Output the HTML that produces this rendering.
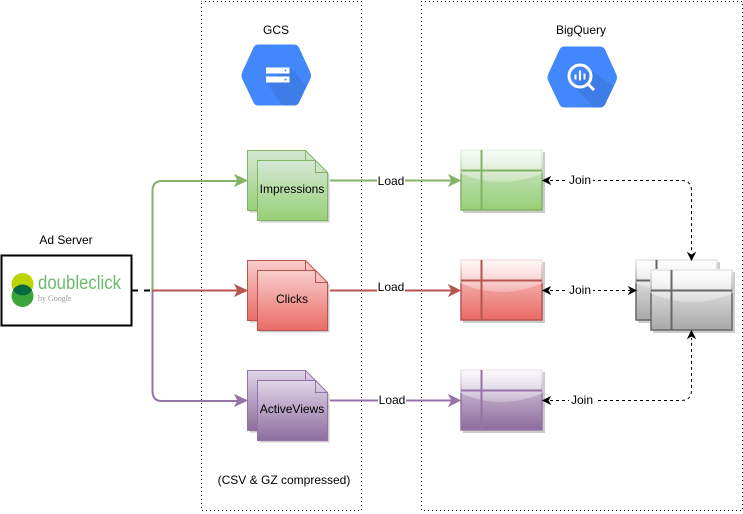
<!DOCTYPE html>
<html><head><meta charset="utf-8"><style>
html,body{margin:0;padding:0;background:#fff}
svg{display:block}
text{font-family:"Liberation Sans",sans-serif;font-size:12px;fill:#000}
</style></head><body>
<svg width="743" height="514" viewBox="0 0 743 514" xmlns="http://www.w3.org/2000/svg">
<defs>
<linearGradient id="gG" x1="0" y1="0" x2="0" y2="1"><stop offset="0" stop-color="#d5e8d4"/><stop offset="1" stop-color="#97d077"/></linearGradient>
<linearGradient id="gR" x1="0" y1="0" x2="0" y2="1"><stop offset="0" stop-color="#f8cecc"/><stop offset="1" stop-color="#ea6b66"/></linearGradient>
<linearGradient id="gP" x1="0" y1="0" x2="0" y2="1"><stop offset="0" stop-color="#e1d5e7"/><stop offset="1" stop-color="#8c6c9c"/></linearGradient>
<linearGradient id="gK" x1="0" y1="0" x2="0" y2="1"><stop offset="0" stop-color="#f5f5f5"/><stop offset="1" stop-color="#a8a8a8"/></linearGradient>
<linearGradient id="gl" x1="0" y1="0" x2="0" y2="1"><stop offset="0" stop-color="#fff" stop-opacity=".85"/><stop offset="1" stop-color="#fff" stop-opacity=".25"/></linearGradient>
<path id="doc" d="M0 0H58L70 12V60H0Z"/>
<path id="hex" d="M17 0H52Q56 0 57.500 3L68.500 27Q70.500 31 68.500 35L57.500 58Q56 61 52 61H17Q13.500 61 12 58L1 35Q-1 31 1 27L12 3Q13.500 0 17 0Z"/>
</defs>

<rect x="201.500" y="1.500" width="160" height="509" fill="none" stroke="#000" stroke-dasharray="1 3" stroke-dashoffset="0.5"/>
<rect x="421.500" y="1.500" width="321" height="509" fill="none" stroke="#000" stroke-dasharray="1 3" stroke-dashoffset="0.5"/>

<text x="276" y="34" text-anchor="middle">GCS</text>
<text x="581" y="34" text-anchor="middle">BigQuery</text>
<text x="66" y="244" text-anchor="middle">Ad Server</text>
<text x="284" y="484" text-anchor="middle">(CSV &amp; GZ compressed)</text>

<!-- GCS hex -->
<g transform="translate(241.500,44.500)"><use href="#hex" fill="#4387fd"/>
<path d="M25 38L48 23L65 41L57.500 58Q56 61 52 61H41Z" fill="#3e7ce8"/>
<rect x="24.500" y="23" width="23.500" height="6" fill="#fff"/><rect x="24.500" y="32" width="23.500" height="6" fill="#fff"/>
<circle cx="44" cy="26" r="1" fill="#4387fd"/><circle cx="44" cy="35" r="1" fill="#4387fd"/></g>
<!-- BQ hex -->
<g transform="translate(547.500,46.500)"><use href="#hex" fill="#4387fd"/>
<path d="M27 40L42 22L66 40L57.500 58Q56 61 52 61H46Z" fill="#3e7ce8"/>
<circle cx="32.500" cy="29.500" r="11" fill="none" stroke="#fff" stroke-width="3"/>
<path d="M40 37L46.500 43.500" stroke="#fff" stroke-width="3"/>
<path d="M28 28V33M32.500 24V34M37 27V33" stroke="#fff" stroke-width="2"/></g>

<!-- Ad server box -->
<rect x="1.500" y="255.500" width="130" height="70" fill="#fff" stroke="#000" stroke-width="2"/>
<circle cx="22.500" cy="284" r="11" fill="#bdd400"/>
<circle cx="22.500" cy="296" r="11" fill="#3aa53a"/>
<path d="M13 290a11 11 0 0 1 19 0a11 11 0 0 1-19 0Z" fill="#046b40"/>
<text x="38" y="289" style="font-size:19px;fill:#6cbb6c" textLength="83" lengthAdjust="spacingAndGlyphs">doubleclick</text>
<text x="38" y="301" style="font-size:8px;fill:#999;font-family:'Liberation Serif',serif">by Google</text>

<!-- Connectors left -->
<path d="M132 290.500H152" stroke="#000" stroke-width="2" stroke-dasharray="6 6" fill="none"/>
<path d="M152.500 290.500V191Q152.500 181 162 181H240" fill="none" stroke="#82b366" stroke-width="2"/>
<path d="M152.500 290.500V391Q152.500 401 162 401H240" fill="none" stroke="#9673a6" stroke-width="2"/>
<path d="M152 290.500H240" fill="none" stroke="#b85450" stroke-width="2"/>
<path d="M247 180.500L235 175L238 180.500L235 186Z" fill="#82b366" stroke="#82b366"/>
<path d="M247 290.500L235 285L238 290.500L235 296Z" fill="#b85450" stroke="#b85450"/>
<path d="M247 400.500L235 395L238 400.500L235 406Z" fill="#9673a6" stroke="#9673a6"/>

<!-- Load connectors -->
<path d="M330 180.500H453" stroke="#82b366" stroke-width="2"/>
<path d="M330 290.500H453" stroke="#b85450" stroke-width="2"/>
<path d="M330 400.500H453" stroke="#9673a6" stroke-width="2"/>
<path d="M460 180.500L449 175L452 180.500L449 186Z" fill="#82b366" stroke="#82b366"/>
<path d="M460 290.500L449 285L452 290.500L449 296Z" fill="#b85450" stroke="#b85450"/>
<path d="M460 400.500L449 395L452 400.500L449 406Z" fill="#9673a6" stroke="#9673a6"/>
<rect x="377" y="174" width="28" height="14" fill="#fff"/><text x="391" y="185" text-anchor="middle">Load</text>
<rect x="377" y="280" width="28" height="14" fill="#fff"/><text x="391" y="291" text-anchor="middle">Load</text>
<rect x="378" y="393" width="28" height="14" fill="#fff"/><text x="392" y="404" text-anchor="middle">Load</text>

<!-- Docs -->
<g>
<use href="#doc" x="249.500" y="152.500" fill="#ccc"/><use href="#doc" x="247.500" y="150.500" fill="url(#gG)" stroke="#82b366"/>
<use href="#doc" x="259.500" y="162.500" fill="#ccc"/><use href="#doc" x="257.500" y="160.500" fill="url(#gG)" stroke="#82b366"/>
<path d="M305.500 150.500V160.500M315.500 160.500V172.500H327.500" fill="none" stroke="#82b366"/>
<text x="292" y="193" text-anchor="middle">Impressions</text>
</g>
<g>
<use href="#doc" x="249.500" y="262.500" fill="#ccc"/><use href="#doc" x="247.500" y="260.500" fill="url(#gR)" stroke="#b85450"/>
<use href="#doc" x="259.500" y="272.500" fill="#ccc"/><use href="#doc" x="257.500" y="270.500" fill="url(#gR)" stroke="#b85450"/>
<path d="M305.500 260.500V270.500M315.500 270.500V282.500H327.500" fill="none" stroke="#b85450"/>
<text x="292" y="303" text-anchor="middle">Clicks</text>
</g>
<g>
<use href="#doc" x="249.500" y="372.500" fill="#ccc"/><use href="#doc" x="247.500" y="370.500" fill="url(#gP)" stroke="#9673a6"/>
<use href="#doc" x="259.500" y="382.500" fill="#ccc"/><use href="#doc" x="257.500" y="380.500" fill="url(#gP)" stroke="#9673a6"/>
<path d="M305.500 370.500V380.500M315.500 380.500V392.500H327.500" fill="none" stroke="#9673a6"/>
<text x="292" y="413" text-anchor="middle">ActiveViews</text>
</g>

<!-- Tables -->
<g fill="none">
<rect x="463" y="152" width="82" height="61" fill="#ccc"/>
<rect x="461" y="150" width="81" height="60" fill="url(#gG)" stroke="#82b366" stroke-width="1.500"/>
<path d="M460 149H543V173Q501.500 191 460 173Z" fill="url(#gl)"/>
<path d="M461 170.500H542M481.500 150V210" stroke="#82b366" stroke-width="2"/>

<rect x="463" y="262" width="82" height="61" fill="#ccc"/>
<rect x="461" y="260" width="81" height="60" fill="url(#gR)" stroke="#b85450" stroke-width="1.500"/>
<path d="M460 259H543V283Q501.500 301 460 283Z" fill="url(#gl)"/>
<path d="M461 280.500H542M481.500 260V320" stroke="#b85450" stroke-width="2"/>

<rect x="463" y="372" width="82" height="61" fill="#ccc"/>
<rect x="461" y="370" width="81" height="60" fill="url(#gP)" stroke="#9673a6" stroke-width="1.500"/>
<path d="M460 369H543V393Q501.500 411 460 393Z" fill="url(#gl)"/>
<path d="M461 390.500H542M481.500 370V430" stroke="#9673a6" stroke-width="2"/>

<rect x="638" y="262" width="82" height="61" fill="#ccc"/>
<rect x="636" y="260" width="81" height="60" fill="url(#gK)" stroke="#666" stroke-width="1.500"/>
<path d="M635 259H718V283Q676.500 301 635 283Z" fill="url(#gl)"/>
<path d="M636 280.500H717M656.500 260V320" stroke="#666" stroke-width="2"/>

<rect x="653" y="272" width="82" height="61" fill="#ccc"/>
<rect x="651" y="270" width="81" height="60" fill="url(#gK)" stroke="#666" stroke-width="1.500"/>
<path d="M650 269H733V293Q691.500 311 650 293Z" fill="url(#gl)"/>
<path d="M651 290.500H732M671.500 270V330" stroke="#666" stroke-width="2"/>
</g>

<!-- Join connectors -->
<g fill="none" stroke="#000" stroke-dasharray="3 3">
<path d="M550 180.500H681Q691.500 180.500 691.500 191V253"/>
<path d="M550 290.500H630"/>
<path d="M550 400.500H681Q691.500 400.500 691.500 390V338"/>
</g>
<g fill="#000" stroke="#000">
<path d="M543 180.500L550 177L548 180.500L550 184Z"/>
<path d="M543 290.500L550 287L548 290.500L550 294Z"/>
<path d="M543 400.500L550 397L548 400.500L550 404Z"/>
<path d="M636 290.500L629 287L631 290.500L629 294Z"/>
<path d="M691.500 260L688 253L691.500 255L695 253Z"/>
<path d="M691.500 331L688 338L691.500 336L695 338Z"/>
</g>
<rect x="567" y="173" width="26" height="14" fill="#fff"/><text x="580" y="184" text-anchor="middle">Join</text>
<rect x="567" y="283" width="26" height="14" fill="#fff"/><text x="580" y="294" text-anchor="middle">Join</text>
<rect x="569" y="393" width="26" height="14" fill="#fff"/><text x="582" y="404" text-anchor="middle">Join</text>
</svg>
</body></html>
